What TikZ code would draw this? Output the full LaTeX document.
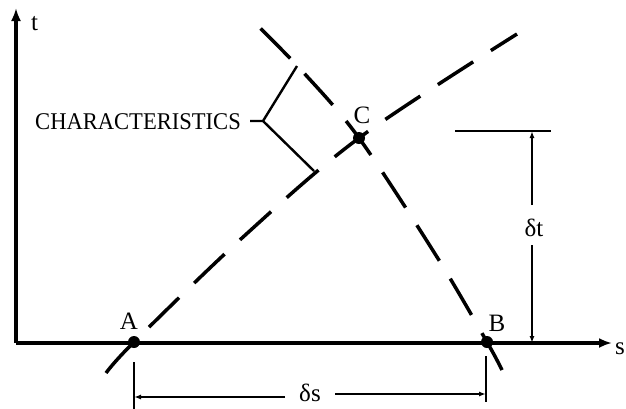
\documentclass[tikz,border=0pt]{standalone}
\usepackage{fontspec}
\setmainfont{Liberation Serif}
\usetikzlibrary{arrows.meta}
\begin{document}
\begin{tikzpicture}[x=1pt,y=-1pt,
  axis/.style={line width=3.2pt,-{Latex[length=13pt,width=10pt]}},
  charline/.style={line width=3.5pt,dash pattern=on 42pt off 21pt},
  dimline/.style={line width=1.8pt},
  dimarrow/.style={line width=1.8pt,-{Latex[length=7pt,width=5pt]}},
  dot/.style={circle,fill=black,inner sep=0pt,minimum size=12pt},
  lbl/.style={font=\fontsize{25}{25}\selectfont,inner sep=0pt},
  brk/.style={line width=2.4pt}]
\useasboundingbox (0,0) rectangle (626,408);
% axes
\coordinate (O) at (16,343);
\coordinate (Ttop) at (16,8);
\coordinate (Send) at (612,343);
\draw[axis] (O) -- (Ttop);
\draw[axis] (O) -- (Send);
\node[lbl,anchor=west] (tlab) at (31,24) {t};
\node[lbl,anchor=west] (slab) at (615,349) {s};
% points
\coordinate (Ap) at (134,342);
\coordinate (Bp) at (487,342);
\coordinate (Cp) at (359,138);
% characteristics
\draw[charline] plot[smooth,tension=0.55] coordinates {(106,373) (134,342) (242,238) (359,138) (517,34)};
\draw[charline] plot[smooth,tension=0.55] coordinates {(502,370) (487,342) (437,257) (359,138) (303,72) (252,20)};
\node[dot] (A) at (Ap) {};
\node[dot] (B) at (Bp) {};
\node[dot] (C) at (Cp) {};
\node[lbl] (Alab) at (129,321) {A};
\node[lbl] (Blab) at (497,323) {B};
\node[lbl] (Clab) at (362,115) {C};
% characteristics bracket
\node[lbl,anchor=east,xscale=0.94,font=\fontsize{24}{24}\selectfont] (chartxt) at (241,122) {CHARACTERISTICS};
\coordinate (V) at (263,121);
\coordinate (Vs) at (250,121);
\coordinate (U) at (297,66);
\coordinate (L) at (314,171);
\draw[brk] (Vs) -- (V) -- (U);
\draw[brk] (V) -- (L);
% delta t
\coordinate (Tl) at (455,131);
\coordinate (Tr) at (551,131);
\coordinate (Tt) at (532,131);
\coordinate (Tb) at (532,343);
\draw[dimline] (Tl) -- (Tr);
\node[lbl] (dt) at (534,228) {δt};
\draw[dimarrow] (532,205) -- (Tt);
\draw[dimarrow] (532,245) -- (Tb);
% delta s
\coordinate (Al) at (134,362);
\coordinate (Alb) at (134,410);
\coordinate (Bl) at (486,356);
\coordinate (Blb) at (486,402);
\draw[dimline] (Al) -- (Alb);
\draw[dimline] (Bl) -- (Blb);
\node[lbl] (ds) at (310,393) {δs};
\coordinate (SL) at (134,397);
\coordinate (SR) at (486,394);
\draw[dimarrow] (285,397) -- (SL);
\draw[dimarrow] (335,394) -- (SR);
\end{tikzpicture}
\end{document}
